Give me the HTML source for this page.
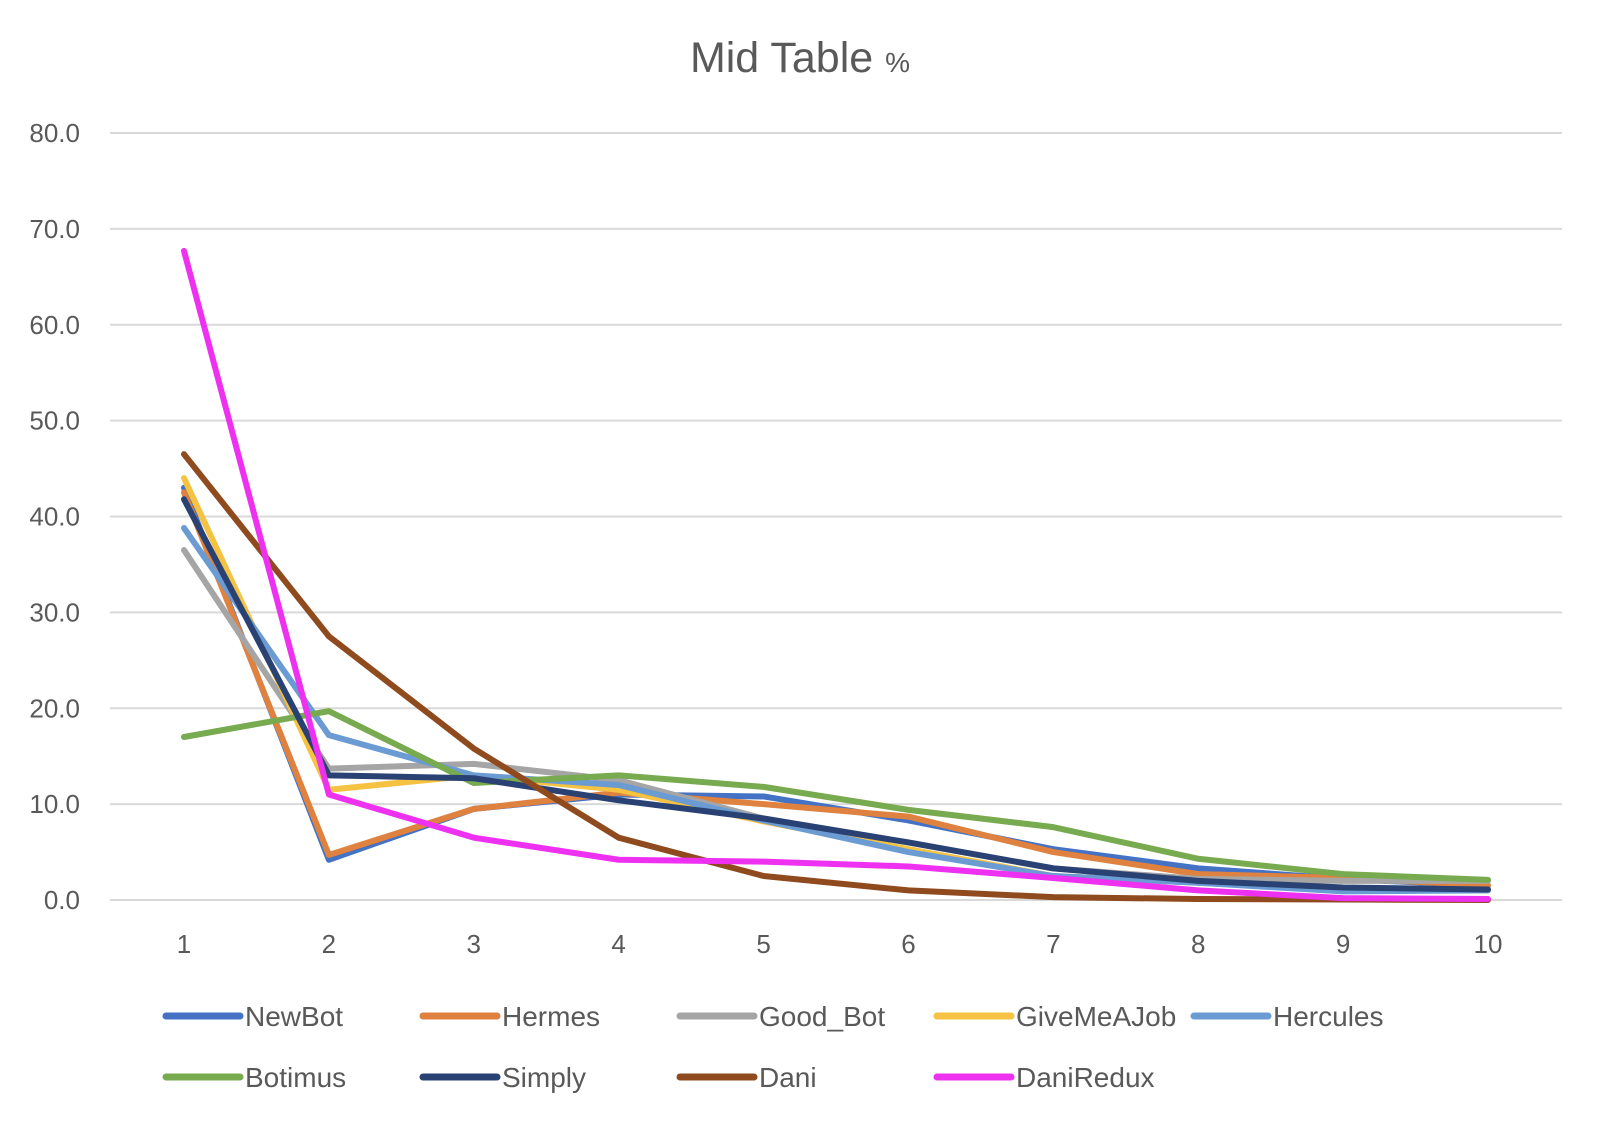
<!DOCTYPE html>
<html><head><meta charset="utf-8"><style>
body{margin:0;background:#fff;}
svg{display:block;font-family:"Liberation Sans",sans-serif;}
</style></head><body>
<svg id="chart" width="1604" height="1126">
<text x="800" y="72" text-anchor="middle" font-size="43" fill="#595959">Mid Table <tspan font-size="28">%</tspan></text>
<g id="grid"></g><g id="series"></g><g id="legend"></g>
</svg>
<script>
const categories=[1,2,3,4,5,6,7,8,9,10];
const yTicks=[0,10,20,30,40,50,60,70,80];
const seriesNames=["NewBot","Hermes","Good_Bot","GiveMeAJob","Hercules","Botimus","Simply","Dani","DaniRedux"];
const seriesColors=["#4472C4","#E0823F","#A5A5A5","#F5C242","#6A9BD2","#78AB50","#2A4273","#8F4A1E","#EE30F0"];
const newBot=[43,4.2,9.5,11,10.8,8.3,5.3,3.3,2.2,1.5];
const hermes=[42.5,4.7,9.5,11.2,10,8.7,5,2.7,2.3,1.5];
const goodBot=[36.5,13.7,14.2,12.5,8.5,6,3.3,2.2,2,2];
const giveMeAJob=[44,11.5,13,11.5,8.2,5.3,2.5,1.8,1,1];
const hercules=[38.8,17.2,13,12,8.3,5,2.5,1.8,0.9,1];
const botimus=[17,19.7,12.2,13,11.8,9.4,7.6,4.3,2.7,2.1];
const simply=[41.8,13,12.7,10.4,8.5,6,3.3,2,1.3,1.1];
const dani=[46.5,27.5,15.8,6.5,2.5,1,0.3,0.1,0.05,0];
const daniRedux=[67.7,11,6.5,4.2,4,3.5,2.3,1,0.2,0.1];
const seriesValues=[newBot,hermes,goodBot,giveMeAJob,hercules,botimus,simply,dani,daniRedux];

const NS="http://www.w3.org/2000/svg";
const x=i=>184+(1488-184)*i/(categories.length-1);
const y=v=>900-(900-133)*v/80;
const grid=document.getElementById('grid');
yTicks.forEach(t=>{
  const l=document.createElementNS(NS,'line');
  l.setAttribute('x1',110);l.setAttribute('x2',1562);l.setAttribute('y1',y(t));l.setAttribute('y2',y(t));
  l.setAttribute('stroke','#d9d9d9');l.setAttribute('stroke-width',2);
  
  
  grid.appendChild(l);
  const tx=document.createElementNS(NS,'text');
  tx.setAttribute('x',80);tx.setAttribute('y',y(t)+9);tx.setAttribute('text-anchor','end');
  tx.setAttribute('font-size',26);tx.setAttribute('fill','#595959');tx.textContent=t.toFixed(1);
  
  
  grid.appendChild(tx);
});
categories.forEach((c,i)=>{
  const tx=document.createElementNS(NS,'text');
  tx.setAttribute('x',x(i));tx.setAttribute('y',953);tx.setAttribute('text-anchor','middle');
  tx.setAttribute('font-size',26);tx.setAttribute('fill','#595959');tx.textContent=c;
  
  
  grid.appendChild(tx);
});
const sg=document.getElementById('series');
seriesValues.forEach((vals,s)=>{
  const p=document.createElementNS(NS,'polyline');
  p.setAttribute('points',vals.map((v,i)=>x(i)+','+y(v)).join(' '));
  p.setAttribute('fill','none');p.setAttribute('stroke',seriesColors[s]);
  p.setAttribute('stroke-width',6);p.setAttribute('stroke-linejoin','round');p.setAttribute('stroke-linecap','round');
  
  
  sg.appendChild(p);
});
const lg=document.getElementById('legend');
seriesNames.forEach((n,s)=>{
  const col=s%5,row=Math.floor(s/5);
  const lx=166+col*257,ly=1016+row*61;
  const g=document.createElementNS(NS,'g');
  
  
  const l=document.createElementNS(NS,'line');
  l.setAttribute('x1',lx);l.setAttribute('x2',lx+74);l.setAttribute('y1',ly);l.setAttribute('y2',ly);
  l.setAttribute('stroke',seriesColors[s]);l.setAttribute('stroke-width',7);l.setAttribute('stroke-linecap','round');
  g.appendChild(l);
  const t=document.createElementNS(NS,'text');
  t.setAttribute('x',lx+79);t.setAttribute('y',ly+10);t.setAttribute('font-size',28);t.setAttribute('fill','#595959');
  t.textContent=n;
  g.appendChild(t);
  lg.appendChild(g);
});
</script>
</body></html>
